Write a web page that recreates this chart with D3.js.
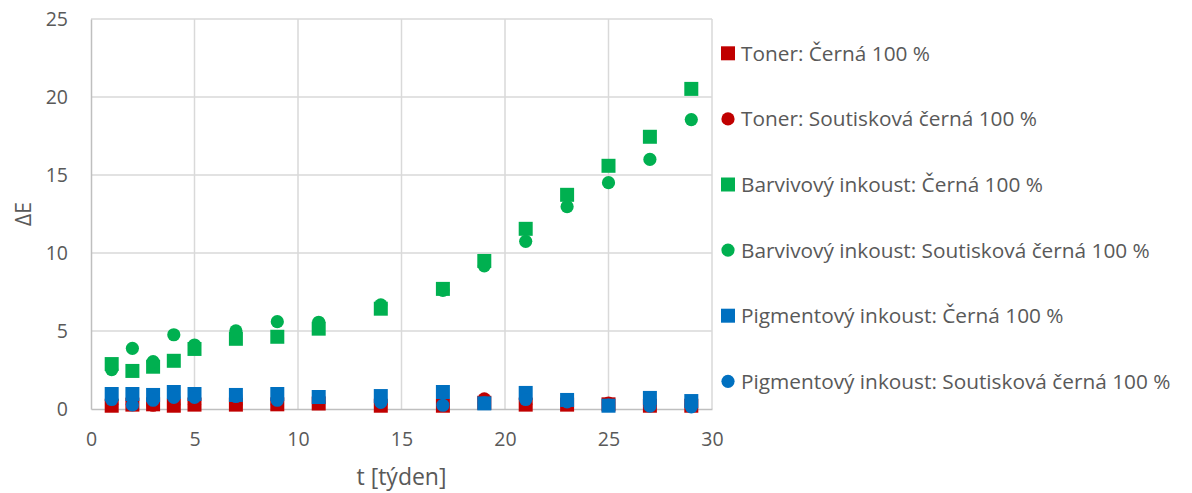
<!DOCTYPE html>
<html><head><meta charset="utf-8">
<script src="https://cdn.jsdelivr.net/npm/d3@7"></script>
<style>html,body{margin:0;padding:0;background:#fff;}svg{display:block;}</style>
</head><body><svg id="c" width="1192" height="493"></svg>
<script>
const weeks = [1,2,3,4,5,7,9,11,14,17,19,21,23,25,27,29];
const tonerSolid   = [0.21,0.28,0.30,0.21,0.28,0.28,0.30,0.35,0.21,0.21,0.40,0.28,0.28,0.30,0.21,0.21];
const tonerRich    = [0.30,0.30,0.24,0.30,0.30,0.30,0.30,0.40,0.30,0.30,0.65,0.30,0.30,0.38,0.30,0.25];
const dyeSolid     = [2.88,2.44,2.71,3.09,3.85,4.50,4.63,5.15,6.43,7.70,9.49,11.55,13.73,15.59,17.45,20.52];
const dyeRich      = [2.53,3.89,3.04,4.76,4.10,5.01,5.60,5.56,6.68,7.60,9.18,10.75,12.97,14.51,16.00,18.55];
const pigSolid     = [0.96,0.96,0.90,1.09,0.96,0.90,0.96,0.77,0.83,1.09,0.36,1.03,0.58,0.21,0.71,0.51];
const pigRich      = [0.61,0.26,0.56,0.74,0.74,0.80,0.56,0.78,0.42,0.24,0.40,0.61,0.46,0.25,0.18,0.14];
const seriesNames  = ["Toner: Černá 100 %","Toner: Soutisková černá 100 %","Barvivový inkoust: Černá 100 %","Barvivový inkoust: Soutisková černá 100 %","Pigmentový inkoust: Černá 100 %","Pigmentový inkoust: Soutisková černá 100 %"];
const seriesValues = [tonerSolid,tonerRich,dyeSolid,dyeRich,pigSolid,pigRich];
const seriesShapes = ["square","circle","square","circle","square","circle"];
const seriesColors = ["#C00000","#C00000","#00B050","#00B050","#0070C0","#0070C0"];
const xTicks = [0,5,10,15,20,25,30];
const yTicks = [0,5,10,15,20,25];

const svg = d3.select("#c");
const font = "'Open Sans', 'Liberation Sans', sans-serif";
const x = d3.scaleLinear().domain([0,30]).range([91,712]);
const y = d3.scaleLinear().domain([0,25]).range([409,19]);

// gridlines
svg.append("g").selectAll("line").data(yTicks.filter(d=>d>0)).join("line")
  .attr("x1",x(0)).attr("x2",x(30)).attr("y1",d=>y(d)).attr("y2",d=>y(d))
  .attr("stroke","#d9d9d9").attr("stroke-width",1.5);
svg.append("g").selectAll("line").data(xTicks.filter(d=>d>0)).join("line")
  .attr("y1",y(0)).attr("y2",y(25)).attr("x1",d=>x(d)).attr("x2",d=>x(d))
  .attr("stroke","#d9d9d9").attr("stroke-width",1.5);

// axes
const xAxis = svg.append("g").attr("transform",`translate(0,${y(0)})`)
  .call(d3.axisBottom(x).tickValues(xTicks).tickSize(0).tickPadding(23));
const yAxis = svg.append("g").attr("transform",`translate(${x(0)},0)`)
  .call(d3.axisLeft(y).tickValues(yTicks).tickSize(0).tickPadding(23));
[xAxis,yAxis].forEach(a=>{
  a.select(".domain").attr("stroke","#bfbfbf").attr("stroke-width",1.5);
  a.selectAll("text").attr("fill","#595959").style("font-family",font).style("font-size","19.5px");
});

// markers
const sym = {square:d3.symbolSquare, circle:d3.symbolCircle};
const size = {square:14*14, circle:Math.PI*6.6*6.6};
seriesValues.forEach((vals,i)=>{
  const shape = seriesShapes[i];
  svg.append("g").selectAll("path").data(weeks.map((w,j)=>[w,vals[j]])).join("path")
    .attr("d",d3.symbol().type(sym[shape]).size(size[shape]))
    .attr("transform",d=>`translate(${x(d[0])},${y(d[1])})`)
    .attr("fill",seriesColors[i]);
});

// axis titles
svg.append("text").attr("x",(x(0)+x(30))/2).attr("y",485).attr("text-anchor","middle")
  .attr("fill","#595959").style("font-family",font).style("font-size","23px").text("t [týden]");
svg.append("text").attr("transform",`translate(31,${y(12.5)}) rotate(-90)`).attr("text-anchor","middle")
  .attr("fill","#595959").style("font-family",font).style("font-size","21px").text("ΔE");

// legend
const leg = svg.append("g");
seriesNames.forEach((n,i)=>{
  const cy = 53.3 + i*65.6;
  const g = leg.append("g").attr("transform",`translate(728,${cy})`);
  g.append("path").attr("d",d3.symbol().type(sym[seriesShapes[i]]).size(size[seriesShapes[i]]))
    .attr("fill",seriesColors[i]);
  g.append("text").attr("x",13).attr("dy","0.36em").attr("fill","#595959")
    .style("font-family",font).style("font-size","20.8px").text(n);
});
</script></body></html>
